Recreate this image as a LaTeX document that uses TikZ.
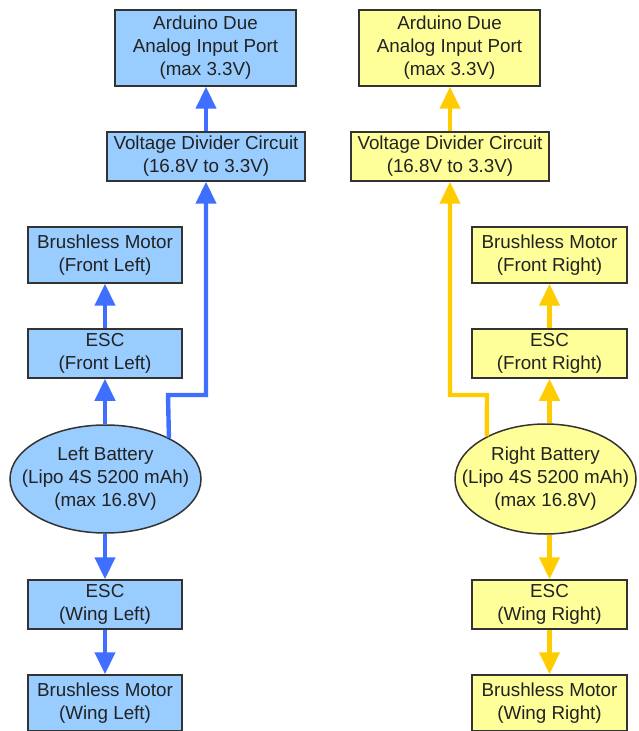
\documentclass[tikz,border=0pt]{standalone}
\usepackage{fontspec}
\setmainfont{Liberation Sans}
\usetikzlibrary{arrows.meta,shapes.geometric}
\definecolor{lblue}{HTML}{99CCFF}
\definecolor{dblue}{HTML}{3F6FFF}
\definecolor{lyellow}{HTML}{FFFF99}
\definecolor{dyellow}{HTML}{FFCC00}
\definecolor{boxline}{HTML}{333333}
\definecolor{textgray}{HTML}{222222}
\tikzset{
  part/.style={draw=boxline, line width=0.75pt, align=center, inner sep=0pt,
    font=\fontsize{9.4}{11.5}\selectfont, text=textgray},
  bluepart/.style={part, fill=lblue},
  yellowpart/.style={part, fill=lyellow},
  battery/.style={ellipse, inner xsep=-14pt, inner ysep=-4pt},
  feed/.style={line width=2.2pt, -{Triangle[length=11pt,width=10pt]}},
  bluefeed/.style={feed, draw=dblue},
  yellowfeed/.style={feed, draw=dyellow},
}
\begin{document}
\begin{tikzpicture}[x=0.5pt, y=-0.5pt]
	\useasboundingbox (0,0) rectangle (638,731);
	% left side
	\node[bluepart, minimum width=90.5pt, minimum height=38pt] (lard) at (205.5,48) {Arduino Due\\Analog Input Port\\(max 3.3V)};
	\node[bluepart, minimum width=99pt, minimum height=24.5pt] (lvd) at (206,156.5) {Voltage Divider Circuit\\(16.8V to 3.3V)};
	\node[bluepart, minimum width=77pt, minimum height=28pt] (lbmf) at (105,255) {Brushless Motor\\(Front Left)};
	\node[bluepart, minimum width=77pt, minimum height=24.5pt] (lescf) at (105,353.5) {ESC\\(Front Left)};
	\node[bluepart, battery, minimum width=95.5pt, minimum height=54pt] (lbat) at (105.5,479) {Left Battery\\(Lipo 4S 5200 mAh)\\(max 16.8V)};
	\node[bluepart, minimum width=77pt, minimum height=24.5pt] (lescw) at (105,604.5) {ESC\\(Wing Left)};
	\node[bluepart, minimum width=77pt, minimum height=28pt] (lbmw) at (105,703) {Brushless Motor\\(Wing Left)};
	% right side
	\node[yellowpart, minimum width=90.5pt, minimum height=38pt] (rard) at (449.5,48) {Arduino Due\\Analog Input Port\\(max 3.3V)};
	\node[yellowpart, minimum width=99pt, minimum height=24.5pt] (rvd) at (450,156.5) {Voltage Divider Circuit\\(16.8V to 3.3V)};
	\node[yellowpart, minimum width=77.5pt, minimum height=28pt] (rbmf) at (549.5,255) {Brushless Motor\\(Front Right)};
	\node[yellowpart, minimum width=77.5pt, minimum height=24.5pt] (rescf) at (549.5,353.5) {ESC\\(Front Right)};
	\node[yellowpart, battery, minimum width=90.5pt, minimum height=55pt] (rbat) at (545.5,479) {Right Battery\\(Lipo 4S 5200 mAh)\\(max 16.8V)};
	\node[yellowpart, minimum width=77.5pt, minimum height=24.5pt] (rescw) at (549.5,604.5) {ESC\\(Wing Right)};
	\node[yellowpart, minimum width=77.5pt, minimum height=28pt] (rbmw) at (549.5,703) {Brushless Motor\\(Wing Right)};
	% connections
	\coordinate (lkink) at (168,395);
	\coordinate (rkink) at (487,395);
	\draw[bluefeed] (lbat.north -| lescf) -- (lescf.south);
	\draw[bluefeed] (lescf.north) -- (lbmf.south);
	\draw[bluefeed] (lbat.south -| lescw) -- (lescw.north);
	\draw[bluefeed] (lescw.south) -- (lbmw.north);
	\draw[bluefeed] (lbat.33) -- (lkink) -| (lvd.south);
	\draw[bluefeed] (lvd.north) -- (lvd.north |- lard.south);
	\draw[yellowfeed] (rbat.north -| rescf) -- (rescf.south);
	\draw[yellowfeed] (rescf.north) -- (rbmf.south);
	\draw[yellowfeed] (rbat.south -| rescw) -- (rescw.north);
	\draw[yellowfeed] (rescw.south) -- (rbmw.north);
	\draw[yellowfeed] (rbat.144) -- (rkink) -| (rvd.south);
	\draw[yellowfeed] (rvd.north) -- (rvd.north |- rard.south);
\end{tikzpicture}
\end{document}
